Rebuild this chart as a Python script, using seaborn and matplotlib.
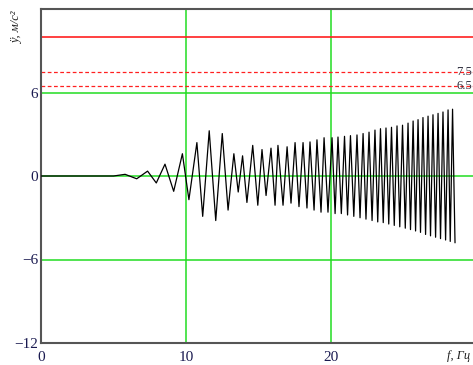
import matplotlib
matplotlib.use("Agg")
import matplotlib.pyplot as plt
import seaborn as sns
import pandas as pd

# Extrema of the response curve (f in Hz, y in m/s^2)
freq = [0.0, 5.0, 5.8, 6.6, 7.35, 7.95, 8.55, 9.15, 9.75, 10.2, 10.75, 11.15,
        11.6, 12.05, 12.5, 12.9, 13.3, 13.6, 13.9, 14.2, 14.6, 14.95, 15.24,
        15.52, 15.86, 16.14, 16.34, 16.69, 16.97, 17.24, 17.52, 17.79, 18.07,
        18.34, 18.55, 18.83, 19.03, 19.31, 19.52, 19.79, 20.07, 20.28, 20.48,
        20.71, 20.93, 21.14, 21.34, 21.57, 21.79, 22.0, 22.21, 22.41, 22.62,
        22.83, 23.03, 23.22, 23.41, 23.60, 23.79, 23.98, 24.17, 24.36, 24.55,
        24.74, 24.93, 25.12, 25.31, 25.48, 25.66, 25.83, 26.0, 26.17, 26.34,
        26.52, 26.69, 26.86, 27.03, 27.21, 27.38, 27.55, 27.72, 27.9, 28.07,
        28.22, 28.38, 28.55]
accel = [0.0, 0.0, 0.12, -0.2, 0.35, -0.5, 0.85, -1.1, 1.6, -1.7, 2.4, -2.9,
         3.25, -3.2, 3.05, -2.45, 1.6, -1.15, 1.45, -1.9, 2.2, -2.1, 1.9,
         -1.4, 2.0, -2.1, 2.2, -2.1, 2.1, -1.95, 2.4, -2.2, 2.4,
         -2.3, 2.45, -2.45, 2.6, -2.6, 2.75, -2.6, 2.75, -2.7, 2.8,
         -2.7, 2.85, -2.8, 2.9, -2.9, 2.95, -3.0, 3.05, -3.1, 3.15,
         -3.2, 3.3, -3.3, 3.4, -3.35, 3.45, -3.45, 3.5, -3.55, 3.6,
         -3.65, 3.65, -3.75, 3.8, -3.85, 3.95, -3.95, 4.05, -4.05, 4.2,
         -4.2, 4.3, -4.3, 4.4, -4.4, 4.5, -4.5, 4.6, -4.6, 4.75,
         -4.7, 4.8, -4.8]

limit_solid = [10.0]
limit_dashed = [7.5, 6.5]
limit_labels = ["7.5", "6.5"]
x_ticks = [0, 10, 20]
x_tick_labels = ["0", "10", "20"]
y_ticks = [6, 0, -6, -12]
y_tick_labels = ["6", "0", "\u22126", "\u221212"]

sns.set_style("white")
plt.rcParams["font.family"] = ["Liberation Serif", "DejaVu Serif"]

fig = plt.figure(figsize=(4.73, 3.65), dpi=100)
ax = fig.add_axes([41 / 473, 1 - 343 / 365, 1 - 41 / 473, (343 - 9) / 365])

df = pd.DataFrame({"f": freq, "y": accel})

ax.set_xlim(0, 29.79)
ax.set_ylim(-12, 12)

# grid lines (green)
for gx in [10, 20]:
    ax.axvline(gx, color="#22dd22", lw=1.1, zorder=1)
for gy in [6, 0, -6]:
    ax.axhline(gy, color="#22dd22", lw=1.1, zorder=1)

# limit lines
for v in limit_solid:
    ax.axhline(v, color="#ff2020", lw=1.2, zorder=2)
for v, lab in zip(limit_dashed, limit_labels):
    ax.axhline(v, color="#ff2020", lw=0.9, ls=(0, (3, 2)), zorder=2)
    ax.text(29.75, v, lab, ha="right", va="center", fontsize=9,
            color="#303040", zorder=3)

sns.lineplot(data=df, x="f", y="y", ax=ax, color="black", lw=0.9,
             sort=False, estimator=None, zorder=4)

ax.set_xticks(x_ticks)
ax.set_xticklabels(x_tick_labels)
ax.set_yticks(y_ticks)
ax.set_yticklabels(y_tick_labels)
ax.tick_params(axis="both", length=0, labelsize=11, labelcolor="#1a1a50")
ax.tick_params(axis="x", pad=6)
ax.tick_params(axis="y", pad=2)
ax.set_xlabel("")
ax.set_ylabel("")

for s in ["left", "bottom", "top"]:
    ax.spines[s].set_color("#555555")
    ax.spines[s].set_linewidth(1.5)
ax.spines["right"].set_visible(False)

fig.text(459 / 473, 1 - 356 / 365, "f, \u0413\u0446", fontsize=9,
         style="italic", ha="center", va="center", color="#222222")
fig.text(17 / 473, 1 - 12 / 365, "\u00ff, \u043c/\u0441\u00b2", fontsize=9,
         style="italic", rotation=90, ha="center", va="top", color="#222222")

fig.savefig("out.png", dpi=100, facecolor="white")
